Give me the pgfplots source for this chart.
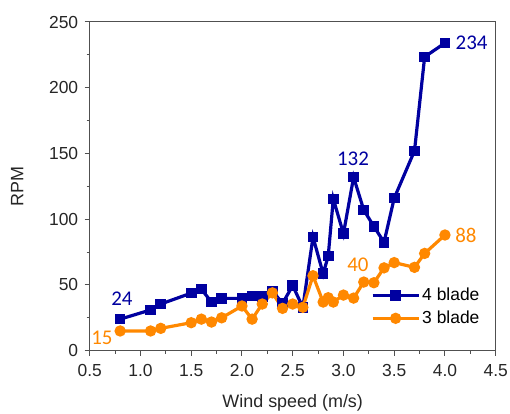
\documentclass[border=0pt]{standalone}
\usepackage{pgfplots}
\pgfplotsset{compat=1.18}
\usepackage{fontspec}
\setmainfont{Liberation Sans}
\newfontfamily\calfont{Carlito}
\definecolor{bl}{RGB}{0,0,160}
\definecolor{or}{RGB}{255,136,0}
\definecolor{axg}{RGB}{80,80,80}
\begin{document}
\begin{tikzpicture}
\path[use as bounding box] (0,0) rectangle (510bp,414bp);
\begin{axis}[
  at={(89.7bp,63.3bp)}, anchor=south west,
  scale only axis, width=406bp, height=328.7bp,
  xmin=0.5, xmax=4.5, ymin=0, ymax=250,
  xtick={0.5,1,...,4.5}, ytick={0,50,...,250},
  minor x tick num=1, minor y tick num=1,
  tick pos=left, tick align=outside,
  major tick length=5bp, minor tick length=3bp,
  axis line style={axg, line width=1bp},
  every tick/.style={axg, line width=1bp},
  /pgf/number format/assume math mode=true,
  xticklabel style={yshift=-5bp, /pgf/number format/.cd, fixed, fixed zerofill, precision=1},
  yticklabel style={xshift=-3bp},
  ticklabel style={font=\fontsize{17.5}{20}\selectfont, text=black!85},
  label style={font=\fontsize{18}{21}\selectfont, text=black!85},
  xlabel={Wind speed (m/s)}, ylabel={RPM},
  xlabel style={yshift=-11bp},
  ylabel style={yshift=19bp},
  legend style={at={(rel axis cs:0.69,0.2)}, anchor=north west, draw=none, fill=none,
    font=\fontsize{17.5}{20}\selectfont, row sep=5bp, inner sep=1bp},
  legend cell align=left,
  legend image code/.code={\draw[mark repeat=2, mark phase=2, #1] plot coordinates {(0bp,0bp) (23bp,0bp) (46bp,0bp)};},
]
\addplot[bl, line width=3.2bp, mark=square*, mark size=3.7bp, mark options={solid}] coordinates {
(0.8,24) (1.1,31) (1.2,35.5) (1.5,43.8) (1.6,46.8) (1.7,37) (1.8,39.8) (2.0,39.8) (2.1,41.5) (2.2,41) (2.3,45.5) (2.4,36) (2.5,49.5) (2.6,33) (2.7,86.5) (2.8,58.5) (2.85,72) (2.9,115.5) (3.0,89) (3.1,132) (3.2,107) (3.3,94.5) (3.4,82.5) (3.5,116) (3.7,152) (3.8,223.5) (4.0,234)
};
\addlegendentry{4 blade}
\addplot[or, line width=3.2bp, mark=*, mark size=4bp, mark options={solid}] coordinates {
(0.8,15) (1.1,15) (1.2,17) (1.5,21.3) (1.6,24) (1.7,21.8) (1.8,25) (2.0,34) (2.1,24) (2.2,35.5) (2.3,44) (2.4,32.2) (2.5,35.5) (2.6,33) (2.7,57) (2.8,37) (2.85,40.3) (2.9,37) (3.0,42.3) (3.1,40) (3.2,52.2) (3.3,51.7) (3.4,63) (3.5,67) (3.7,63.4) (3.8,74) (4.0,88)
};
\addlegendentry{3 blade}
\node[bl, font=\calfont\fontsize{21}{24}\selectfont] at (axis cs:0.818,39.3) {24};
\node[or, font=\calfont\fontsize{21}{24}\selectfont] at (axis cs:0.621,9.6) {15};
\node[bl, font=\calfont\fontsize{21}{24}\selectfont] at (axis cs:3.094,145.8) {132};
\node[bl, font=\calfont\fontsize{21}{24}\selectfont] at (axis cs:4.263,234) {234};
\node[or, font=\calfont\fontsize{21}{24}\selectfont] at (axis cs:4.207,88) {88};
\node[or, font=\calfont\fontsize{21}{24}\selectfont] at (axis cs:3.143,65.2) {40};
\end{axis}
\end{tikzpicture}
\end{document}
